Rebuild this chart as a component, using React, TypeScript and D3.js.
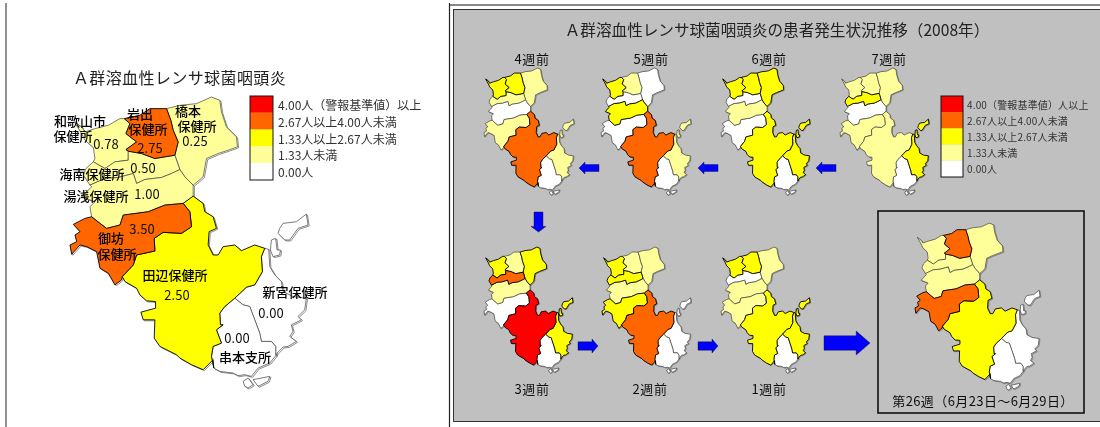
import React from "react";
import * as d3 from "d3";

type P = [number, number];

const rev = (a: P[]) => [...a].reverse();

const wakaIwade: P[] = [[253,175],[270,190],[258,220],[290,245],[258,268]];
const iwadeTop: P[] = [[253,175],[300,165],[330,145],[380,145]];
const iwadeHashi: P[] = [[380,145],[393,180],[400,210],[415,245],[405,285]];
const waka265: P[] = [[258,268],[265,273]];
const iwadeKainan: P[] = [[265,273],[305,280],[345,295],[405,285]];
const wakaKainan: P[] = [[265,273],[265,300],[225,305],[195,325],[160,305]];
const kainanHashi: P[] = [[405,285],[420,328]];
const kainanYuasa: P[] = [[420,328],[395,340],[365,352],[315,358],[290,370],[280,340],[235,352],[195,355],[150,375]];
const hashiYuasa: P[] = [[420,328],[435,350],[460,375]];
const yuasaGobo: P[] = [[430,430],[375,435],[325,455],[250,465],[240,495],[200,505],[180,490],[155,470]];
const goboTanabe: P[] = [[430,430],[450,455],[455,500],[425,520],[370,517],[343,535],[345,573],[290,585],[280,615],[247,650]];
const tanabeShingu: P[] = [[585,715],[620,682],[645,675],[668,635],[665,590],[675,565]];
const tanabeKushi: P[] = [[585,715],[555,740],[540,760],[542,795],[550,795],[530,810],[545,850],[520,860],[515,890],[522,925]];
const shinguKushi: P[] = [[585,715],[610,735],[630,740],[645,780],[660,820],[665,845],[695,845],[708,860],[708,888]];

const wakayama: P[] = [[103,185],[125,200],[135,215],[165,205],[205,195],[240,175],...wakaIwade,...waka265.slice(1),...wakaKainan.slice(1),[165,295],[160,262],[135,240],[125,220]];
const iwade: P[] = [...iwadeTop,...iwadeHashi.slice(1),...rev(iwadeKainan).slice(1),...rev(waka265).slice(1),...rev(wakaIwade).slice(1)];
const hashimoto: P[] = [[380,145],[420,135],[470,130],[515,110],[540,120],[545,155],[560,200],[590,230],[593,260],[565,270],[535,280],[500,295],[490,350],...rev(hashiYuasa),...rev(kainanHashi).slice(1),...rev(iwadeHashi).slice(1)];
const kainan: P[] = [[160,305],...rev(wakaKainan).slice(1),...iwadeKainan.slice(1),...kainanHashi.slice(1),...kainanYuasa.slice(1),[130,345],[138,325]];
const yuasa: P[] = [...rev(kainanYuasa),...hashiYuasa.slice(1),[460,410],...yuasaGobo,[150,440],[165,425],[125,410],[155,380]];
const gobo: P[] = [...goboTanabe,[245,660],[225,675],[205,640],[180,625],[170,575],[140,560],[120,555],[95,583],[90,555],[110,545],[105,525],[120,515],[100,493],[135,475],...rev(yuasaGobo)];
const tanabe: P[] = [[430,430],[460,408],[490,430],[495,455],[520,470],[530,505],[508,515],[505,555],[520,585],[535,585],[550,560],[585,555],[605,572],[645,555],...rev(tanabeShingu),...tanabeKushi.slice(1),[520,900],[490,930],[455,915],[420,895],[410,885],[360,860],[343,835],[345,780],[310,780],[303,757],[347,745],[347,725],[320,723],[300,705],[290,685],[255,665],...rev(goboTanabe)];
const shingu: P[] = [[675,565],[687,568],[690,620],[705,645],[725,665],[730,695],[760,710],[800,715],[795,750],[775,770],[785,780],[755,795],[760,815],[750,830],[770,845],[745,860],[730,862],[712,880],...rev(shinguKushi),...tanabeShingu.slice(1)];
const kushimoto: P[] = [...tanabeKushi,[540,935],[580,940],[595,948],[615,945],[635,950],[655,925],[690,910],...rev(shinguKushi).slice(0,-1)];
const kitayama: P[] = [[720,505],[730,490],[770,485],[800,462],[805,495],[775,505],[750,540],[735,540],[715,520]];
const kitaStrip: P[] = [[695,540],[708,535],[712,570],[722,570],[720,585],[700,590],[692,570]];
const isleA: P[] = [[610,965],[625,955],[640,975],[625,985],[615,980]];
const isleB: P[] = [[640,960],[690,950],[685,965],[655,980]];

const regions: P[][] = [wakayama, iwade, hashimoto, kainan, yuasa, gobo, tanabe, shingu, kushimoto];
const shinguIndex = 7;
const kushimotoIndex = 8;

const levelColors = ["#ffffff", "#ffff99", "#ffff00", "#ff6600", "#ff0000"];

const largeLevels = [1, 3, 1, 1, 1, 3, 2, 0, 0];
const w4 = [2, 2, 1, 1, 0, 1, 3, 1, 0];
const w5 = [2, 1, 0, 0, 2, 0, 3, 1, 0];
const w6 = [2, 2, 2, 0, 1, 0, 2, 2, 0];
const w7 = [1, 1, 1, 2, 0, 1, 1, 2, 0];
const w3 = [2, 1, 2, 3, 1, 0, 4, 2, 0];
const w2 = [2, 1, 1, 2, 1, 2, 3, 0, 0];
const w1 = [2, 2, 1, 0, 1, 1, 2, 2, 0];
const current = [1, 3, 1, 1, 1, 3, 2, 0, 0];

const mapFrames: { levels: number[]; x: P; y: P; shadow: number }[] = [
  { levels: largeLevels, x: [70, 308], y: [97, 388], shadow: 1.2 },
  { levels: w4, x: [484, 574], y: [68, 195], shadow: 0.7 },
  { levels: w5, x: [601, 691], y: [68, 195], shadow: 0.7 },
  { levels: w6, x: [721, 810], y: [68, 195], shadow: 0.7 },
  { levels: w7, x: [840, 929], y: [68, 195], shadow: 0.7 },
  { levels: w3, x: [484, 573], y: [247, 373], shadow: 0.7 },
  { levels: w2, x: [602, 691], y: [247, 373], shadow: 0.7 },
  { levels: w1, x: [721, 810], y: [247, 373], shadow: 0.7 },
  { levels: current, x: [915, 1040], y: [223, 390], shadow: 0.9 },
];

const legendLeft = ["4.00人\uFF08警報基準値\uFF09以上", "2.67人以上4.00人未満", "1.33人以上2.67人未満", "1.33人未満", "0.00人"];
const legendRight = ["4.00\uFF08警報基準値\uFF09人以上", "2.67人以上4.00人未満", "1.33人以上2.67人未満", "1.33人未満", "0.00人"];
const legendLevels = [4, 3, 2, 1, 0];

const titleLeft = "\uFF21群溶血性レンサ球菌咽頭炎";
const titleRight = "\uFF21群溶血性レンサ球菌咽頭炎の患者発生状況推移\uFF082008年\uFF09";
const captionText = "第26週\uFF086月23日\uFF5E6月29日\uFF09";

const weekLabels: [string, number, number][] = [
  ["4週前", 532, 58], ["5週前", 651, 58], ["6週前", 769, 58], ["7週前", 889, 58],
  ["3週前", 532, 388], ["2週前", 650, 388], ["1週前", 769, 388],
];

const nameLabels: [string, number, number][] = [
  ["和歌山市", 80, 120], ["保健所", 73, 135],
  ["岩出", 140, 113], ["保健所", 148, 128],
  ["橋本", 188, 110], ["保健所", 197, 125],
  ["海南保健所", 92, 173], ["湯浅保健所", 96, 195],
  ["御坊", 111, 237], ["保健所", 117, 253],
  ["田辺保健所", 175, 274], ["新宮保健所", 295, 291], ["串本支所", 245, 356],
];
const valueLabels: [string, number, number][] = [
  ["0.78", 106, 143], ["2.75", 150, 147], ["0.25", 195, 140], ["0.50", 143, 167],
  ["1.00", 147, 193], ["3.50", 142, 228], ["2.50", 177, 294], ["0.00", 271, 312], ["0.00", 237, 337],
];

const arrows: { x: P; y: P; dir: "left" | "right" | "down" }[] = [
  { x: [579, 599], y: [163, 173], dir: "left" },
  { x: [698, 718], y: [163, 173], dir: "left" },
  { x: [816, 836], y: [163, 173], dir: "left" },
  { x: [531, 546], y: [212, 232], dir: "down" },
  { x: [578, 598], y: [339, 353], dir: "right" },
  { x: [698, 718], y: [339, 353], dir: "right" },
  { x: [824, 870], y: [331, 355], dir: "right" },
];

const font = '"Noto Sans CJK JP", "Noto Sans", sans-serif';

function arrowPath(a: { x: P; y: P; dir: string }) {
  const [x0, x1] = a.x, [y0, y1] = a.y;
  const w = x1 - x0, h = y1 - y0;
  let pts: P[];
  if (a.dir === "down") {
    const ym = y0 + h * 0.72, m = (x0 + x1) / 2;
    pts = [[x0 + w * 0.2, y0], [x1 - w * 0.2, y0], [x1 - w * 0.2, ym], [x1, ym], [m, y1], [x0, ym], [x0 + w * 0.2, ym]];
  } else if (a.dir === "left") {
    const xm = x0 + Math.min(w * 0.3, h * 0.7), m = (y0 + y1) / 2;
    pts = [[x0, m], [xm, y0 - 1], [xm, y0 + h * 0.15], [x1, y0 + h * 0.15], [x1, y1 - h * 0.15], [xm, y1 - h * 0.15], [xm, y1 + 1]];
  } else {
    const xm = x1 - Math.min(w * 0.3, h * 0.6), m = (y0 + y1) / 2;
    pts = [[x0, y0 + h * 0.2], [xm, y0 + h * 0.2], [xm, y0], [x1, m], [xm, y1], [xm, y1 - h * 0.2], [x0, y1 - h * 0.2]];
  }
  return d3.line().curve(d3.curveLinearClosed)(pts) as string;
}

function MapView({ levels, x, y, shadow }: { levels: number[]; x: P; y: P; shadow: number }) {
  const xs = d3.scaleLinear().domain([90, 805]).range(x);
  const ys = d3.scaleLinear().domain([110, 985]).range(y);
  const line = d3.line<P>().x((p) => xs(p[0])).y((p) => ys(p[1])).curve(d3.curveLinearClosed);
  const items = [
    ...regions.map((r, i) => ({ d: line(r) as string, level: levels[i] })),
    { d: line(kitayama) as string, level: levels[shinguIndex] },
    { d: line(kitaStrip) as string, level: levels[shinguIndex] },
    { d: line(isleA) as string, level: levels[kushimotoIndex] },
    { d: line(isleB) as string, level: levels[kushimotoIndex] },
  ];
  const ordered = d3.sort(items, (a, b) => d3.ascending(a.level, b.level));
  return (
    <g>
      <g transform={`translate(${shadow},${shadow * 0.8})`}>
        {items.map((it, i) => <path key={i} d={it.d} fill="none" stroke="#808080" strokeWidth={0.9} />)}
      </g>
      {ordered.map((it, i) => (
        <path key={i} d={it.d} fill={levelColors[it.level]}
          stroke={it.level >= 2 ? "#000" : "#444"}
          strokeWidth={it.level >= 2 ? 0.9 : 0.7} strokeLinejoin="round" />
      ))}
    </g>
  );
}

function Legend({ x, y, w, rowH, labels, fs, tx, ls }: { x: number; y: number; w: number; rowH: number; labels: string[]; fs: number; tx: number; ls: number }) {
  return (
    <g>
      {legendLevels.map((lv, i) => (
        <rect key={i} x={x} y={y + i * rowH} width={w} height={rowH} fill={levelColors[lv]} />
      ))}
      <rect x={x} y={y} width={w} height={rowH * 5} fill="none" stroke="#111" strokeWidth={1} />
      {labels.map((t, i) => (
        <text key={t} x={tx} y={y + (i + 0.5) * rowH} fontSize={fs} letterSpacing={ls} dominantBaseline="central" fill="#333">{t}</text>
      ))}
    </g>
  );
}

export default function App() {
  return (
    <svg width={1100} height={427} viewBox="0 0 1100 427" fontFamily={font}
      style={{ position: "absolute", left: 0, top: 0, background: "#fff" }}>
      <defs>
        <filter id="soft" x="-5%" y="-5%" width="110%" height="110%">
          <feGaussianBlur stdDeviation="0.3" />
        </filter>
      </defs>
      <line x1={6} x2={6} y1={3} y2={427} stroke="#222" strokeWidth={1} />
      <line x1={449.5} x2={449.5} y1={3} y2={427} stroke="#222" strokeWidth={1.2} />
      <line x1={449.5} x2={1100} y1={5} y2={5} stroke="#111" strokeWidth={1.2} />
      <rect x={453.5} y={9.5} width={660} height={412} fill="#c0c0c0" stroke="#333" strokeWidth={1} />
      <rect x={878} y={211} width={206} height={202} fill="none" stroke="#111" strokeWidth={1.6} />

      {mapFrames.map((m, i) => <MapView key={i} {...m} />)}

      {arrows.map((a, i) => <path key={i} d={arrowPath(a)} fill="#0000ff" stroke="#111" strokeWidth={0.4} />)}

      <g filter="url(#soft)">
        <text x={179.5} y={77} fontSize={16} letterSpacing={0.4} textAnchor="middle" dominantBaseline="central" fill="#222">{titleLeft}</text>
        <text x={777} y={29} fontSize={15.6} textAnchor="middle" dominantBaseline="central" fill="#222">{titleRight}</text>

        <Legend x={250} y={96} w={23} rowH={16.8} labels={legendLeft} fs={12} tx={278} ls={0} />
        <Legend x={941} y={96} w={22} rowH={16.2} labels={legendRight} fs={10} tx={967} ls={0.15} />

        {nameLabels.map(([t, x, y], i) => (
          <text key={i} x={x} y={y} fontSize={13} fontWeight={500} textAnchor="middle" dominantBaseline="central" fill="#000">{t}</text>
        ))}
        {valueLabels.map(([t, x, y], i) => (
          <text key={i} x={x} y={y} fontSize={13} textAnchor="middle" dominantBaseline="central" fill="#111">{t}</text>
        ))}
        {weekLabels.map(([t, x, y], i) => (
          <text key={i} x={x} y={y} fontSize={13} letterSpacing={0.6} textAnchor="middle" dominantBaseline="central" fill="#111">{t}</text>
        ))}
        <text x={983} y={400} fontSize={13} letterSpacing={0.4} textAnchor="middle" dominantBaseline="central" fill="#111">{captionText}</text>
      </g>
    </svg>
  );
}
